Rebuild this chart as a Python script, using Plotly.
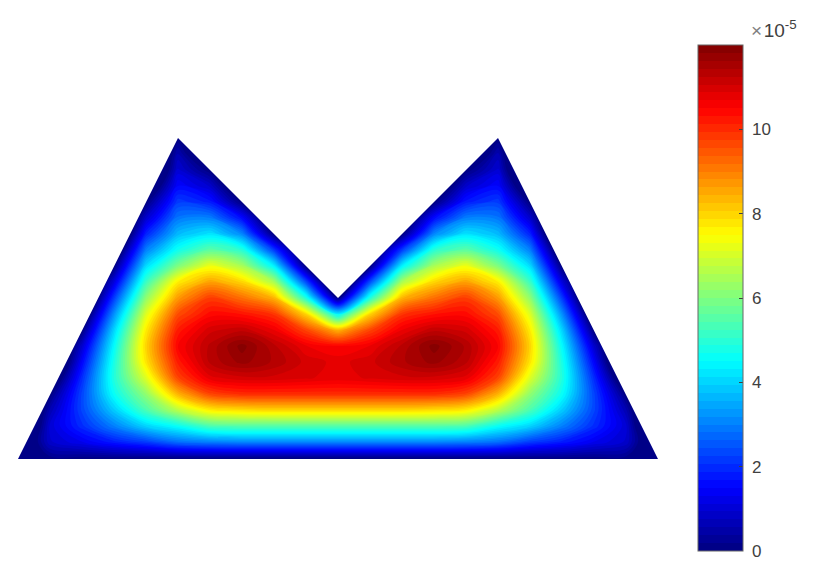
import numpy as np
import plotly.graph_objects as go

# Domain outline and tick labels
OUTLINE_X = [18, 178, 338, 498, 658]
OUTLINE_Y = [459, 138, 298, 138, 459]
TICK_VALUES = [0, 2, 4, 6, 8, 10]
TICK_LABELS = ['0', '2', '4', '6', '8', '10']
Z_MAX = 12.0
BANDS = 64

# Sample positions of the field
GRID_X = [2, 18, 50, 82, 114, 146, 178, 210, 242, 274, 306, 338,
          370, 402, 434, 466, 498, 530, 562, 594, 626, 658, 674]
GRID_Y = [122, 138, 154, 170, 186, 202, 218, 234, 250, 266, 282, 298,
          314, 330, 346, 362, 378, 394, 410, 426, 442, 458, 474]

# Field values per column, in units of 1e-5 (negative = just outside the outline)
C002 = [-2, -2, -2, -2, -2, -2, -2, -2, -2, -2, -2, -2, -2, -2, -2, -2, -2, -2, -2, -2, -2, -1, -2]
C018 = [-2, -2, -2, -2, -2, -2, -2, -2, -2, -2, -2, -2, -2, -2, -2, -2, -2, -2, -2, -2, -1, 0, -2]
C050 = [-2, -2, -2, -2, -2, -2, -2, -2, -2, -2, -2, -2, -2, -2, -2, -2, -1, 0, 0.6, 1.0, 0.9, 0.1, -2]
C082 = [-2, -2, -2, -2, -2, -2, -2, -2, -2, -2, -2, -2, -1, 0, 0.9, 1.5, 2.0, 2.3, 2.3, 2.0, 1.3, 0.1, -2]
C114 = [-2, -2, -2, -2, -2, -2, -2, -2, -1, 0, 1.1, 2.2, 3.2, 4.0, 4.5, 4.8, 4.9, 4.6, 3.9, 3.0, 1.8, 0.1, -2]
C146 = [-2, -2, -2, -2, -1, 0, 0.9, 1.9, 3.0, 4.1, 5.2, 6.2, 7.1, 7.7, 8.0, 7.8, 7.1, 6.2, 5.4, 4.0, 2.2, 0.1, -2]
C178 = [-2, 0, 0.6, 1.0, 1.5, 2.2, 2.9, 3.7, 4.7, 6.0, 7.7, 8.7, 9.6, 10.2, 10.5, 10.2, 9.7, 8.4, 6.7, 4.6, 2.8, 0.1, -2]
C210 = [-2, -2, -1, 0, 0.9, 1.8, 3.0, 4.2, 5.6, 7.3, 8.6, 9.8, 10.4, 11.0, 11.3, 11.3, 10.8, 9.7, 7.7, 5.4, 3.0, 0.1, -2]
C242 = [-2, -2, -2, -2, -1, 0, 1.6, 3.1, 5.0, 6.5, 8.0, 9.2, 10.3, 11.2, 11.9, 11.7, 11.0, 10.0, 7.9, 5.5, 3.1, 0.1, -2]
C274 = [-2, -2, -2, -2, -2, -2, -1, 0, 2.2, 4.4, 6.5, 8.4, 9.9, 10.7, 11.3, 11.4, 11.0, 10.0, 8.0, 5.5, 3.1, 0.1, -2]
C306 = [-2, -2, -2, -2, -2, -2, -2, -2, -1, 0, 2.4, 4.9, 8.0, 9.7, 10.7, 11.0, 10.9, 10.0, 8.0, 5.5, 3.1, 0.1, -2]
C338 = [-2, -2, -2, -2, -2, -2, -2, -2, -2, -2, -2, 0, 4.3, 8.4, 10.5, 10.8, 10.8, 10.0, 8.0, 5.5, 3.1, 0.1, -2]
C370 = [-2, -2, -2, -2, -2, -2, -2, -2, -1, 0, 2.4, 4.9, 8.0, 9.7, 10.7, 11.0, 10.9, 10.0, 8.0, 5.5, 3.1, 0.1, -2]
C402 = [-2, -2, -2, -2, -2, -2, -1, 0, 2.2, 4.4, 6.5, 8.4, 9.9, 10.7, 11.3, 11.4, 11.0, 10.0, 8.0, 5.5, 3.1, 0.1, -2]
C434 = [-2, -2, -2, -2, -1, 0, 1.6, 3.1, 5.0, 6.5, 8.0, 9.2, 10.3, 11.2, 11.9, 11.7, 11.0, 10.0, 7.9, 5.5, 3.1, 0.1, -2]
C466 = [-2, -2, -1, 0, 0.9, 1.8, 3.0, 4.2, 5.6, 7.3, 8.6, 9.8, 10.4, 11.0, 11.4, 11.3, 10.8, 9.7, 7.7, 5.4, 3.0, 0.1, -2]
C498 = [-2, 0, 0.6, 1.0, 1.5, 2.2, 2.9, 3.7, 4.7, 6.0, 7.7, 8.7, 9.6, 10.2, 10.5, 10.2, 9.7, 8.4, 6.7, 4.6, 2.8, 0.1, -2]
C530 = [-2, -2, -2, -2, -1, 0, 0.9, 1.9, 3.0, 4.1, 5.2, 6.2, 7.1, 7.7, 8.0, 7.8, 7.1, 6.2, 5.4, 4.0, 2.2, 0.1, -2]
C562 = [-2, -2, -2, -2, -2, -2, -2, -2, -1, 0, 1.1, 2.2, 3.2, 4.0, 4.5, 4.8, 4.9, 4.6, 3.9, 3.0, 1.8, 0.1, -2]
C594 = [-2, -2, -2, -2, -2, -2, -2, -2, -2, -2, -2, -2, -1, 0, 0.9, 1.5, 2.0, 2.3, 2.3, 2.0, 1.3, 0.1, -2]
C626 = [-2, -2, -2, -2, -2, -2, -2, -2, -2, -2, -2, -2, -2, -2, -2, -2, -1, 0, 0.6, 1.0, 0.9, 0.1, -2]
C658 = [-2, -2, -2, -2, -2, -2, -2, -2, -2, -2, -2, -2, -2, -2, -2, -2, -2, -2, -2, -2, -1, 0, -2]
C674 = [-2, -2, -2, -2, -2, -2, -2, -2, -2, -2, -2, -2, -2, -2, -2, -2, -2, -2, -2, -2, -2, -1, -2]

COLUMNS = [C002, C018, C050, C082, C114, C146, C178, C210, C242, C274, C306, C338,
           C370, C402, C434, C466, C498, C530, C562, C594, C626, C658, C674]

TEXT_COLOR = '#404040'
FONT = 'Liberation Sans'


def jet_scale(n=BANDS):
    # banded jet, same look as the stepped colorbar
    scale = []
    for i in range(n):
        t = (i + 0.5) / n
        r, g, b = [np.clip(1.5 - abs(4 * t - k), 0, 1) for k in (3, 2, 1)]
        col = f'rgb({int(r * 255)},{int(g * 255)},{int(b * 255)})'
        scale.append([i / n, col])
        scale.append([(i + 1) / n, col])
    return scale


z = np.array(COLUMNS, dtype=float).T

fig = go.Figure(go.Contour(
    x=GRID_X, y=GRID_Y, z=z,
    zmin=0, zmax=Z_MAX,
    autocontour=False,
    contours=dict(start=0, end=Z_MAX, size=Z_MAX / BANDS, coloring='fill', showlines=False),
    line=dict(width=0, smoothing=1.0),
    colorscale=jet_scale(),
    hoverinfo='skip',
    colorbar=dict(
        x=698 / 819, xanchor='left', xpad=0,
        y=29 / 580, yanchor='bottom', ypad=0,
        lenmode='pixels', len=506,
        thicknessmode='pixels', thickness=45,
        outlinecolor='#666666', outlinewidth=1,
        tickmode='array', tickvals=TICK_VALUES,
        # small lead so the numbers sit a little off the bar
        ticktext=['\u00a0' + t for t in TICK_LABELS],
        ticks='inside', ticklen=4, tickcolor=TEXT_COLOR, tickwidth=1,
        tickfont=dict(family=FONT, size=17, color=TEXT_COLOR),
    ),
))

# White mask around the outline
outline = ' '.join(f'{"M" if i == 0 else "L"}{x},{y}'
                   for i, (x, y) in enumerate(zip(OUTLINE_X, OUTLINE_Y)))
fig.add_shape(
    type='path', xref='x', yref='y', layer='above',
    path=f'M0,100 L685,100 L685,500 L0,500 Z {outline} Z',
    fillcolor='white', line_width=0,
)

fig.add_annotation(
    xref='x', yref='y', x=799, y=29, xanchor='right', yanchor='middle',
    text='<span style="color:#808080">×</span>\u200a10<sup>-5</sup>', showarrow=False,
    font=dict(family=FONT, size=19, color=TEXT_COLOR),
)

fig.update_layout(
    width=819, height=580,
    margin=dict(l=0, r=0, t=0, b=0),
    plot_bgcolor='white', paper_bgcolor='white',
    xaxis=dict(range=[0, 819], visible=False),
    yaxis=dict(range=[580, 0], visible=False),
)

fig.write_html('out.html', config={'displayModeBar': False},
               post_script="document.body.style.margin='0';")
